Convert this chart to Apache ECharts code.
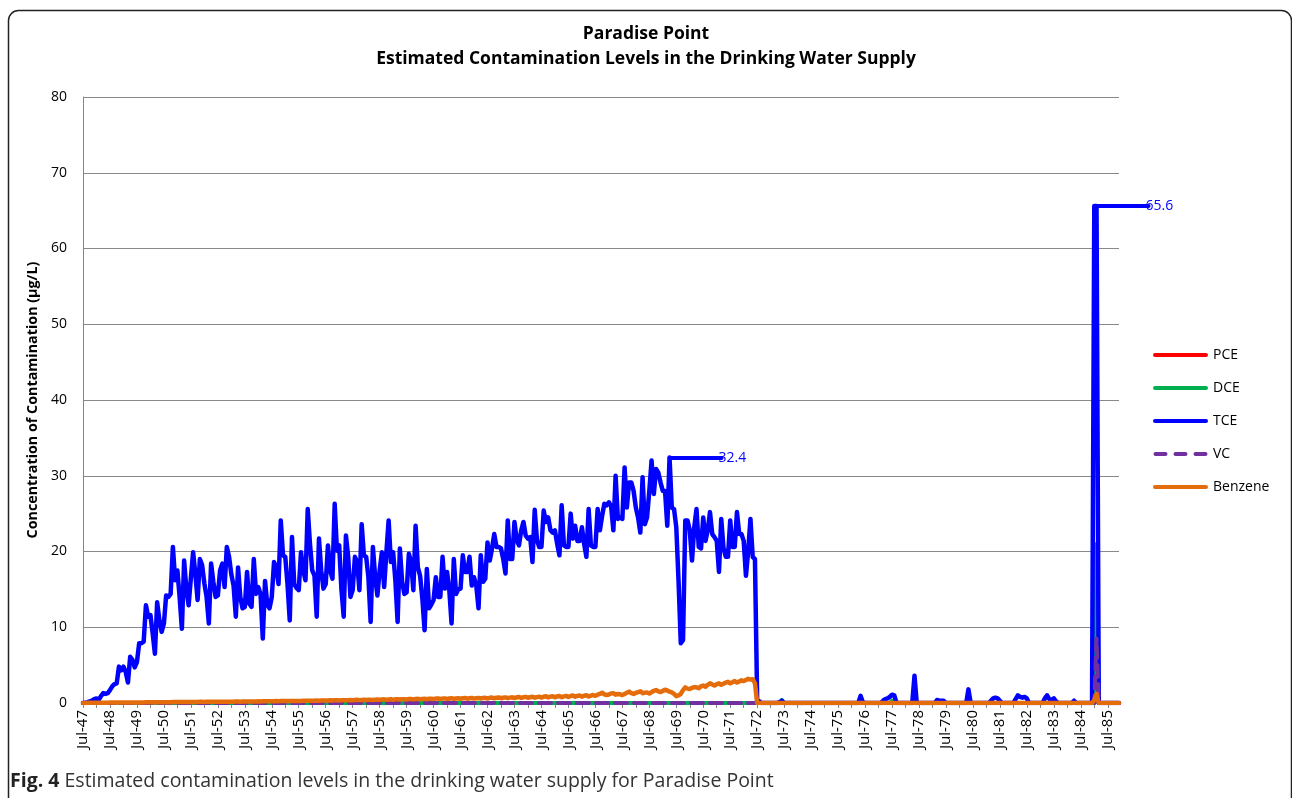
<!DOCTYPE html>
<html>
<head>
<meta charset="UTF-8">
<title>Paradise Point</title>
<style>
  html, body { margin: 0; padding: 0; background: #fff; }
  #main { width: 1292px; height: 798px; }
</style>
</head>
<body>
<div id="main"></div>
<script src="https://cdn.jsdelivr.net/npm/echarts@6/dist/echarts.min.js"></script>
<script>
// months Jul-47 .. Dec-85
var monthNames = ['Jan','Feb','Mar','Apr','May','Jun','Jul','Aug','Sep','Oct','Nov','Dec'];
var firstYear = 1947, firstMonth = 6, monthCount = 462;
var categories = [];
for (var i = 0; i < monthCount; i++) {
  var m = (firstMonth + i) % 12;
  var y = firstYear + Math.floor((firstMonth + i) / 12);
  categories.push(monthNames[m] + '-' + String(y).slice(2));
}

// TCE, Jul-47 .. Jun-72 (one row per year, Jul..Jun)
var tceEarly = [
  0, 0.05, 0.1, 0.2, 0.3, 0.5, 0.6, 0.4, 0.9, 1.3, 1.2, 1.3,
  1.7, 2.2, 2.5, 2.6, 4.8, 4.3, 4.8, 4.1, 2.7, 6.1, 5.7, 4.7,
  5.4, 7.9, 7.9, 8.1, 12.9, 11.4, 11.6, 9.2, 6.5, 13.3, 10.9, 9.4,
  10.5, 14.2, 14.0, 14.4, 20.6, 16.2, 17.5, 14.0, 9.8, 18.8, 15.0, 12.9,
  16.5, 19.9, 17.0, 13.6, 19.0, 18.2, 15.8, 14.0, 10.5, 18.4, 16.0, 14.0,
  14.2, 17.5, 18.4, 15.3, 20.6, 19.3, 17.0, 15.5, 11.4, 17.9, 14.0, 12.5,
  12.7, 17.3, 13.1, 12.7, 19.0, 14.4, 15.3, 14.4, 8.5, 16.1, 13.0, 12.5,
  14.0, 18.6, 17.9, 15.7, 24.1, 19.5, 19.3, 15.7, 10.9, 21.9, 15.7, 15.2,
  14.9, 19.9, 17.5, 16.2, 25.6, 21.0, 17.5, 16.8, 11.4, 21.7, 17.5, 15.1,
  15.7, 20.8, 17.5, 16.4, 26.3, 20.1, 20.8, 15.0, 11.4, 22.1, 19.3, 14.0,
  14.9, 19.3, 18.6, 14.9, 23.6, 19.5, 19.3, 16.6, 10.7, 20.6, 16.6, 14.2,
  17.5, 19.9, 15.3, 19.9, 24.1, 18.6, 19.9, 16.2, 10.7, 20.4, 16.0, 14.4,
  14.6, 19.7, 18.6, 14.9, 23.4, 17.9, 16.8, 13.8, 9.6, 17.7, 12.5, 13.0,
  13.6, 16.6, 14.0, 14.0, 19.3, 15.1, 17.3, 14.9, 10.5, 19.0, 14.4, 15.0,
  15.1, 19.5, 17.3, 17.3, 19.3, 15.5, 16.6, 15.5, 12.5, 19.5, 16.0, 16.4,
  21.2, 18.8, 20.4, 22.3, 20.6, 20.6, 20.4, 19.0, 17.1, 24.1, 19.0, 19.0,
  23.9, 21.5, 20.8, 22.8, 23.9, 22.1, 21.7, 21.9, 18.6, 25.5, 21.5, 20.6,
  20.6, 25.4, 23.9, 24.5, 22.8, 22.5, 22.8, 21.0, 19.5, 26.1, 20.8, 20.6,
  20.6, 25.0, 21.7, 23.4, 21.4, 21.4, 23.2, 21.0, 19.3, 25.6, 20.8, 20.6,
  20.6, 25.6, 22.8, 24.7, 26.3, 26.1, 26.5, 26.0, 22.8, 30.0, 24.3, 24.5,
  24.3, 31.1, 25.8, 29.1, 29.1, 28.0, 25.8, 24.5, 22.5, 29.8, 23.6, 24.5,
  28.0, 32.0, 27.6, 30.9, 30.4, 29.1, 28.0, 28.0, 23.4, 32.4, 25.8, 25.6,
  23.2, 16.2, 7.9, 8.3, 24.1, 24.1, 22.8, 18.8, 23.2, 25.6, 20.6, 20.4,
  24.5, 21.4, 22.8, 25.2, 22.3, 21.9, 21.4, 17.3, 24.3, 20.5, 19.3, 19.3,
  24.1, 20.6, 20.6, 25.2, 22.3, 22.3, 21.4, 16.8, 20.1, 24.3, 19.3, 19.0
];
// TCE after Jul-72: month index, value (all other months 0)
var tceLate = [
  [300, 0.3], [301, 0.2], [310, 0.1], [311, 0.3], [346, 0.95], [347, 0.1],
  [356, 0.3], [357, 0.5], [358, 0.6], [359, 0.8], [360, 1.1], [361, 1.0],
  [370, 3.6], [380, 0.4], [381, 0.3], [382, 0.3], [383, 0.3], [394, 1.8],
  [404, 0.3], [405, 0.6], [406, 0.7], [407, 0.6], [408, 0.3],
  [415, 0.5], [416, 1.0], [417, 0.8], [418, 0.7], [419, 0.8], [420, 0.6],
  [428, 0.6], [429, 1.0], [430, 0.5], [431, 0.4], [432, 0.6], [433, 0.2],
  [441, 0.3], [450, 65.6], [451, 65.6]
];

// Benzene, Jul-47 .. Jun-72
var benzeneEarly = [
  0.01, 0.01, 0.02, 0.02, 0.02, 0.03, 0.03, 0.03, 0.03, 0.04, 0.04, 0.04,
  0.05, 0.05, 0.05, 0.05, 0.06, 0.06, 0.06, 0.06, 0.07, 0.07, 0.07, 0.07,
  0.08, 0.08, 0.08, 0.08, 0.09, 0.09, 0.09, 0.09, 0.10, 0.10, 0.10, 0.10,
  0.10, 0.11, 0.11, 0.11, 0.12, 0.12, 0.12, 0.12, 0.12, 0.13, 0.13, 0.13,
  0.13, 0.14, 0.14, 0.14, 0.15, 0.15, 0.14, 0.15, 0.15, 0.16, 0.16, 0.16,
  0.16, 0.17, 0.17, 0.18, 0.18, 0.17, 0.18, 0.18, 0.19, 0.19, 0.18, 0.19,
  0.19, 0.20, 0.21, 0.21, 0.20, 0.21, 0.22, 0.21, 0.22, 0.23, 0.22, 0.23,
  0.23, 0.24, 0.25, 0.24, 0.25, 0.26, 0.25, 0.26, 0.27, 0.26, 0.27, 0.28,
  0.27, 0.28, 0.30, 0.29, 0.30, 0.31, 0.29, 0.31, 0.32, 0.30, 0.32, 0.33,
  0.32, 0.34, 0.36, 0.33, 0.35, 0.37, 0.34, 0.36, 0.38, 0.35, 0.37, 0.39,
  0.37, 0.40, 0.42, 0.38, 0.41, 0.43, 0.39, 0.42, 0.44, 0.40, 0.43, 0.45,
  0.42, 0.46, 0.48, 0.43, 0.47, 0.49, 0.44, 0.48, 0.50, 0.45, 0.49, 0.51,
  0.47, 0.52, 0.54, 0.48, 0.53, 0.55, 0.49, 0.54, 0.56, 0.50, 0.55, 0.57,
  0.52, 0.58, 0.60, 0.53, 0.58, 0.61, 0.54, 0.59, 0.62, 0.55, 0.60, 0.62,
  0.56, 0.63, 0.66, 0.57, 0.63, 0.66, 0.58, 0.64, 0.67, 0.59, 0.65, 0.68,
  0.60, 0.68, 0.72, 0.62, 0.69, 0.73, 0.63, 0.70, 0.74, 0.64, 0.71, 0.75,
  0.66, 0.75, 0.80, 0.68, 0.76, 0.81, 0.69, 0.77, 0.82, 0.70, 0.78, 0.84,
  0.72, 0.83, 0.88, 0.74, 0.84, 0.90, 0.76, 0.86, 0.92, 0.77, 0.88, 0.94,
  0.80, 0.92, 0.98, 0.82, 0.94, 1.00, 0.84, 0.96, 1.03, 0.86, 0.98, 1.05,
  0.95, 1.10, 1.20, 1.36, 1.15, 1.05, 1.12, 1.25, 1.30, 1.10, 1.20, 1.15,
  1.05, 1.20, 1.35, 1.50, 1.30, 1.20, 1.35, 1.45, 1.55, 1.30, 1.36, 1.40,
  1.25, 1.45, 1.60, 1.70, 1.55, 1.45, 1.60, 1.75, 1.65, 1.50, 1.40, 1.20,
  0.90, 1.00, 1.20, 1.70, 2.06, 1.90, 1.85, 2.00, 2.10, 2.06, 1.95, 2.20,
  2.30, 2.15, 2.40, 2.60, 2.45, 2.30, 2.50, 2.60, 2.40, 2.55, 2.70, 2.80,
  2.60, 2.75, 2.90, 2.70, 2.85, 3.00, 2.90, 3.05, 3.20, 3.10, 3.15, 2.60
];
var benzeneLate = [[450, 0.4], [451, 1.2]];

// PCE, DCE, VC are zero except these months
var pcePoints = [[451, 5.6]];
var dcePoints = [[311, 0.4], [360, 0.3], [451, 21.0]];
var vcPoints = [[451, 8.5]];

// labelled maxima (leader lines)
var callouts = [[261, 32.4], [451, 65.6]];

function fullSeries(early, points) {
  var out = [];
  for (var i = 0; i < monthCount; i++) out.push(i < early.length ? early[i] : 0);
  points.forEach(function (p) { out[p[0]] = p[1]; });
  return out;
}

var pce = fullSeries([], pcePoints);
var dce = fullSeries([], dcePoints);
var tce = fullSeries(tceEarly, tceLate);
var vc = fullSeries([], vcPoints);
var benzene = fullSeries(benzeneEarly, benzeneLate);

var font = '"Open Sans", "Noto Sans", sans-serif';
var solidIcon = 'path://M2,0 L53,0 A2,2 0 0 1 53,4 L2,4 A2,2 0 0 1 2,0 Z';
var dashIcon = 'path://M2,0 L12,0 A2,2 0 0 1 12,4 L2,4 A2,2 0 0 1 2,0 Z ' +
  'M22,0 L32,0 A2,2 0 0 1 32,4 L22,4 A2,2 0 0 1 22,0 Z ' +
  'M42,0 L52,0 A2,2 0 0 1 52,4 L42,4 A2,2 0 0 1 42,0 Z';

function line(id, name, data, color, width, type) {
  return {
    id: id, name: name, type: 'line', data: data,
    showSymbol: false, symbol: 'none',
    color: color,
    lineStyle: { color: color, width: width, type: type || 'solid', cap: 'round', join: 'round' },
    emphasis: { disabled: true },
    animation: false
  };
}

var chart = echarts.init(document.getElementById('main'));
chart.setOption({
  backgroundColor: '#fff',
  animation: false,
  title: {
    text: 'Paradise Point\nEstimated Contamination Levels in the Drinking Water Supply',
    left: 'center', top: 17,
    textStyle: { fontFamily: font, fontSize: 17.5, fontWeight: 'bold', color: '#000', lineHeight: 25 }
  },
  legend: {
    orient: 'vertical', left: 1148, top: 343,
    itemWidth: 55, itemHeight: 4, itemGap: 19,
    textStyle: { fontFamily: font, fontSize: 14, color: '#000', height: 14, lineHeight: 14 },
    data: [
      { name: 'PCE', icon: solidIcon },
      { name: 'DCE', icon: solidIcon },
      { name: 'TCE', icon: solidIcon },
      { name: 'VC', icon: dashIcon },
      { name: 'Benzene', icon: solidIcon }
    ]
  },
  grid: { left: 83, top: 97, width: 1036, height: 606 },
  xAxis: {
    type: 'category', data: categories, boundaryGap: false,
    axisLine: { lineStyle: { color: '#868686' } },
    axisTick: { interval: function (i) { return i % 6 === 0; }, length: 5, lineStyle: { color: '#868686' } },
    axisLabel: {
      interval: function (i) { return i % 12 === 0; },
      rotate: 90, margin: 7, fontFamily: font, fontSize: 15, color: '#000'
    },
    splitLine: { show: false }
  },
  yAxis: {
    type: 'value', min: 0, max: 80, interval: 10,
    name: 'Concentration of Contamination (µg/L)',
    nameLocation: 'middle', nameRotate: 90, nameGap: 43,
    nameTextStyle: { fontFamily: font, fontSize: 14.3, fontWeight: 'bold', color: '#000' },
    axisLine: { show: true, lineStyle: { color: '#868686' } },
    axisTick: { show: false },
    axisLabel: { margin: 16, fontFamily: font, fontSize: 14, color: '#000' },
    splitLine: { lineStyle: { color: '#898989', width: 1 } }
  },
  series: [
    line('pce', 'PCE', pce, '#ff0000', 4),
    line('dce', 'DCE', dce, '#00b050', 4),
    line('tce', 'TCE', tce, '#0000ff', 4.5),
    line('vc', 'VC', vc, '#7030a0', 4, [12, 7]),
    line('benzene', 'Benzene', benzene, '#e46c0a', 4.5)
  ],
  graphic: [
    {
      type: 'rect', left: 6, top: 8, silent: true,
      shape: { width: 1283, height: 840, r: 10 },
      style: { fill: 'none', stroke: '#222', lineWidth: 1.5 }
    },
    {
      type: 'text', left: 10, top: 771, silent: true,
      style: {
        text: '{b|Fig. 4} Estimated contamination levels in the drinking water supply for Paradise Point',
        fontFamily: font, fontSize: 19.5, fill: '#333',
        rich: { b: { fontFamily: font, fontSize: 19.5, fontWeight: 'bold', fill: '#222' } }
      }
    }
  ]
});

// leader lines to the labelled maxima, placed through the chart's own scales
var leaderLength = 52;
var leaders = callouts.map(function (c) {
  var p = chart.convertToPixel({ seriesIndex: 2 }, [c[0], c[1]]);
  return [
    { x: p[0], y: p[1] },
    { x: p[0] + leaderLength, y: p[1], label: { formatter: c[1].toFixed(1) } }
  ];
});
chart.setOption({
  series: [{
    id: 'tce',
    markLine: {
      silent: true, symbol: ['none', 'none'], animation: false,
      lineStyle: { color: '#0000ff', width: 4, type: 'solid', cap: 'round' },
      label: { show: true, position: 'end', distance: -3, color: '#0000ff', fontFamily: font, fontSize: 14 },
      emphasis: { disabled: true },
      data: leaders
    }
  }]
});
</script>
</body>
</html>
